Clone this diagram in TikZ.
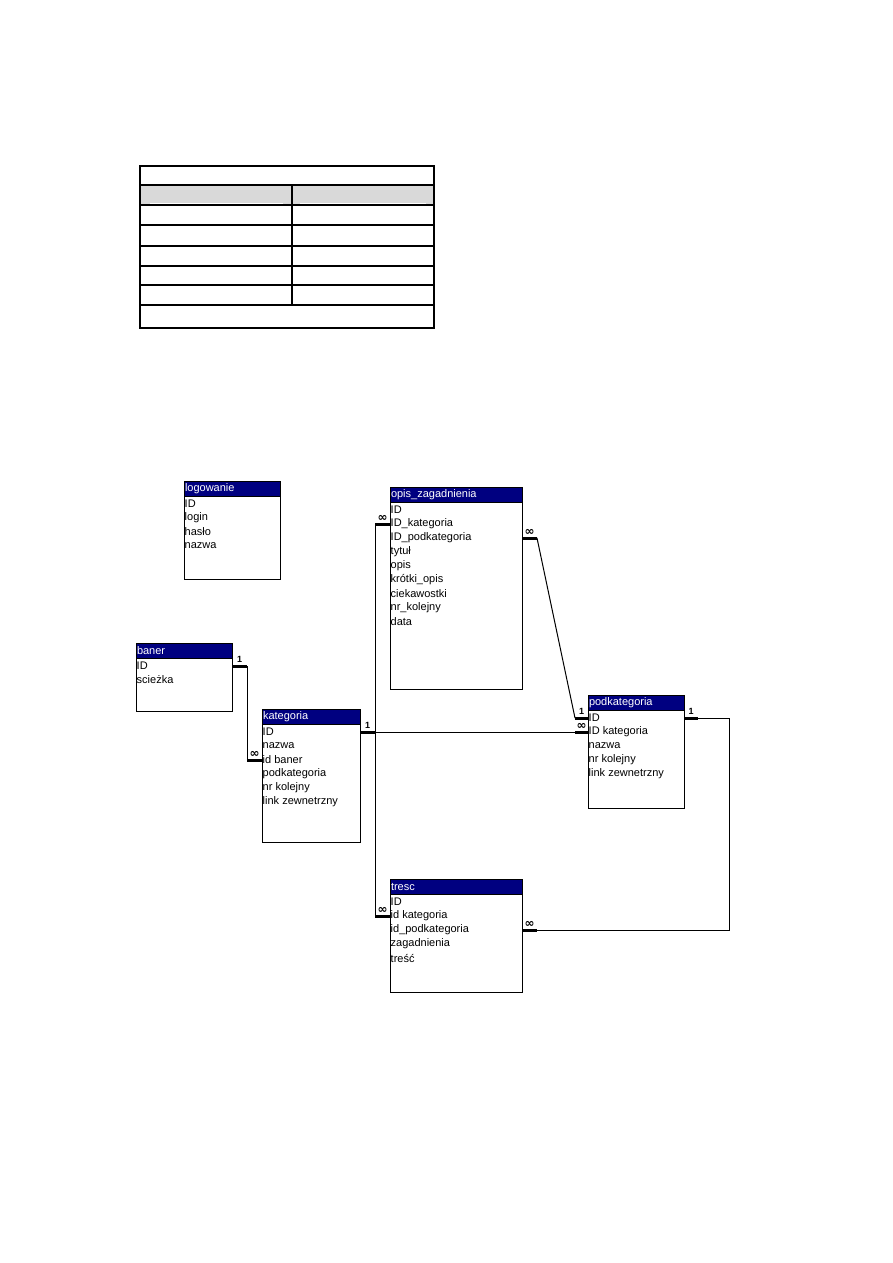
\documentclass[tikz,border=0pt]{standalone}
\usepackage{fontspec}
\setmainfont{Liberation Sans}
\newfontfamily\symfont{DejaVu Sans}
\usepackage{xcolor}
\usepackage{tikz}
\usetikzlibrary{positioning, calc}
\definecolor{navy}{HTML}{000080}
\definecolor{headgray}{HTML}{D9D9D9}

\tikzset{
  tabbox/.style={draw=black, line width=1pt, fill=white, inner sep=0pt, outer sep=0pt, anchor=north west},
  titlebar/.style={fill=navy, draw=black, line width=1pt, text=white, anchor=north west,
    inner sep=1pt, outer sep=0pt, minimum height=15pt, align=left, font=\fontsize{11}{11}\selectfont},
  field/.style={anchor=west, inner sep=0.5pt, font=\fontsize{11}{11}\selectfont},
  stub/.style={line width=3pt},
  link/.style={line width=1pt},
  card/.style={above=1.5pt, inner sep=0.5pt, font=\bfseries\fontsize{9}{9}\selectfont},
  many/.style={above=1.5pt, inner sep=0pt, font=\symfont\bfseries\fontsize{12}{12}\selectfont}
}

\begin{document}
\begin{tikzpicture}[x=1pt, y=-1pt]
        \useasboundingbox (0,0) rectangle (893,1263);

        % empty table at the top
        \fill[headgray] (140,185) rectangle (434,205);
        \draw[line width=1.2pt] (140,166) rectangle (434,328);
        \foreach \y in {185,205,225,246,266,285,305}
            \draw[line width=1.2pt] (140,\y) -- (434,\y);
        \draw[line width=1.2pt] (292,185) -- (292,305);
        \draw[white, line width=0.8pt] (150,203) -- (283,203) (300,203) -- (426,203);

        % tables
        \node[tabbox, minimum width=96pt, minimum height=98pt] (logowanie) at (184,481) {};
        \node[titlebar, text width=94pt] (logowanie-t) at (logowanie.north west) {logowanie};
        \foreach \f [count=\i] in {ID,login,hasło,nazwa}
            \node[field] (logowanie-\i) at ($(logowanie.north west)+(0,9+14*\i)$) {\f};

        \node[tabbox, minimum width=96pt, minimum height=68pt] (baner) at (136,643) {};
        \node[titlebar, text width=94pt] (baner-t) at (baner.north west) {baner};
        \foreach \f [count=\i] in {ID,scieżka}
            \node[field] (baner-\i) at ($(baner.north west)+(0,9+14*\i)$) {\f};

        \node[tabbox, minimum width=98pt, minimum height=133pt] (kategoria) at (262,709) {};
        \node[titlebar, text width=96pt] (kategoria-t) at (kategoria.north west) {kategoria};
        \foreach \f [count=\i] in {ID,nazwa,id baner,podkategoria,nr kolejny,link zewnetrzny}
            \node[field] (kategoria-\i) at ($(kategoria.north west)+(0,9+14*\i)$) {\f};

        \node[tabbox, minimum width=132pt, minimum height=202pt] (opis) at (390,487) {};
        \node[titlebar, text width=130pt] (opis-t) at (opis.north west) {opis\_zagadnienia};
        \foreach \f [count=\i] in {ID,ID\_kategoria,ID\_podkategoria,tytuł,opis,krótki\_opis,ciekawostki,nr\_kolejny,data}
            \node[field] (opis-\i) at ($(opis.north west)+(0,9+14*\i)$) {\f};

        \node[tabbox, minimum width=96pt, minimum height=113pt] (podkat) at (588,695) {};
        \node[titlebar, text width=94pt] (podkat-t) at (podkat.north west) {podkategoria};
        \foreach \f [count=\i] in {ID,ID kategoria,nazwa,nr kolejny,link zewnetrzny}
            \node[field] (podkat-\i) at ($(podkat.north west)+(0,9+14*\i)$) {\f};

        \node[tabbox, minimum width=132pt, minimum height=113pt] (tresc) at (390,879) {};
        \node[titlebar, text width=130pt] (tresc-t) at (tresc.north west) {tresc};
        \foreach \f [count=\i] in {ID,id kategoria,id\_podkategoria,zagadnienia,treść}
            \node[field] (tresc-\i) at ($(tresc.north west)+(0,9+14*\i)$) {\f};

        % baner -> kategoria
        \draw[stub] (baner.east |- baner-1.west) -- node[card] {1} ++(15,0) coordinate (b1);
        \draw[stub] (kategoria.west |- kategoria-3.west) -- node[many] {∞} ++(-15,0) coordinate (b2);
        \draw[link] (b1) -- (b2);

        % kategoria -> opis_zagadnienia, podkategoria, tresc
        \draw[stub] (kategoria.east |- kategoria-1.west) -- node[card] {1} ++(15,0) coordinate (k1);
        \draw[stub] (opis.west |- opis-2.west) -- node[many] {∞} ++(-15,0) coordinate (k2);
        \draw[stub] (tresc.west |- tresc-2.west) -- node[many] {∞} ++(-15,0) coordinate (k3);
        \draw[stub] (podkat.west |- podkat-2.west) -- node[many] {∞} ++(-13,0) coordinate (k4);
        \draw[link] (k2) -- (k3);
        \draw[link] (k1) -- (k4);

        % opis_zagadnienia -> podkategoria
        \draw[stub] (opis.east |- opis-3.west) -- node[many] {∞} ++(15,0) coordinate (p1);
        \draw[stub] (podkat.west |- podkat-1.west) -- node[card] {1} ++(-13,0) coordinate (p2);
        \draw[link] (p1) -- (p2);

        % podkategoria -> tresc
        \draw[stub] (podkat.east |- podkat-1.west) -- node[card] {1} ++(14,0) coordinate (t1);
        \draw[stub] (tresc.east |- tresc-3.west) -- node[many] {∞} ++(15,0) coordinate (t2);
        \draw[link] (t1) -- ++(31,0) |- (t2);
\end{tikzpicture}
\end{document}
